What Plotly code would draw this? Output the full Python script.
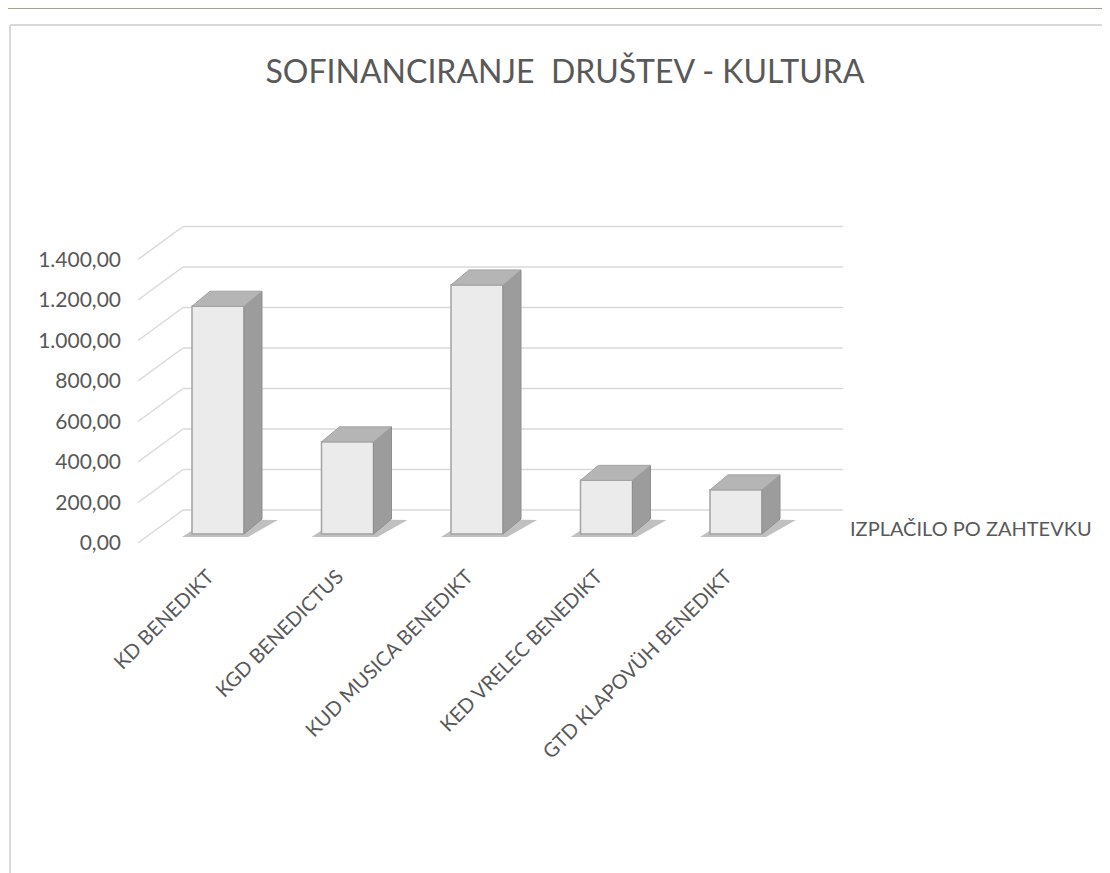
import plotly.graph_objects as go

# ---- data ----
categories = ["KD BENEDIKT", "KGD BENEDICTUS", "KUD MUSICA BENEDIKT",
              "KED VRELEC BENEDIKT", "GTD KLAPOVÜH BENEDIKT"]
values = [1125, 455, 1230, 265, 218]
series_name = "IZPLAČILO PO ZAHTEVKU"
y_ticks = [0, 200, 400, 600, 800, 1000, 1200, 1400]
title_text = "SOFINANCIRANJE  DRUŠTEV - KULTURA"

# ---- layout geometry (screen pixels; page body has an 8px margin) ----
OFF = 8
W, H = 1110 - OFF, 873 - OFF
L, R, T, B = 126, 1100, 200, 560          # plot area (screen px)
X0PX, Y0PX = 218, 543                     # category 0 centre / value 0 (front plane)
PX_PER_CAT = 129.5
PX_PER_VAL = 0.2025

xr = [(L - X0PX) / PX_PER_CAT, (R - X0PX) / PX_PER_CAT]
yr = [-(B - Y0PX) / PX_PER_VAL, (Y0PX - T) / PX_PER_VAL]

def px_x(px):
    return (px - X0PX) / PX_PER_CAT

def px_dx(px):
    return px / PX_PER_CAT

def px_dy(px):
    return px / PX_PER_VAL

WALL_DY = px_dy(33)
WALL_FRONT_X = px_x(138)
WALL_BACK_X = px_x(183)
WALL_RIGHT_X = px_x(843)

BAR_W = px_dx(52)
BAR_BASE = px_dy(9)
BAR_DDX = px_dx(18)
BAR_DDY = px_dy(15)

TEXT = "#595959"
FONT = "Lato"

fig = go.Figure()

# front faces
fig.add_trace(go.Bar(
    x=list(range(len(categories))), y=values, base=BAR_BASE, width=BAR_W,
    marker=dict(color="#ebebeb", line=dict(color="#a3a3a3", width=1.5)),
    name=series_name, showlegend=False,
    customdata=categories,
    hovertemplate="%{customdata}<br>%{y:,.2f}<extra></extra>",
))

# side & top faces derived from values
for i, v in enumerate(values):
    xl, xrt = i - BAR_W / 2, i + BAR_W / 2
    top = BAR_BASE + v
    fig.add_trace(go.Scatter(
        x=[xrt, xrt + BAR_DDX, xrt + BAR_DDX, xrt, xrt],
        y=[BAR_BASE, BAR_BASE + BAR_DDY, top + BAR_DDY, top, BAR_BASE],
        mode="lines", fill="toself", fillcolor="#9c9c9c",
        line=dict(color="#8f8f8f", width=1), hoverinfo="skip", showlegend=False))
    fig.add_trace(go.Scatter(
        x=[xl, xrt, xrt + BAR_DDX, xl + BAR_DDX, xl],
        y=[top, top, top + BAR_DDY, top + BAR_DDY, top],
        mode="lines", fill="toself", fillcolor="#b5b5b5",
        line=dict(color="#a3a3a3", width=1), hoverinfo="skip", showlegend=False))

shapes = []
# back wall gridlines + diagonals
for v in y_ticks:
    shapes.append(dict(type="line", xref="x", yref="y", layer="below",
                       x0=WALL_FRONT_X, y0=v, x1=WALL_BACK_X, y1=v + WALL_DY,
                       line=dict(color="#d9d9d9", width=1.5)))
    shapes.append(dict(type="line", xref="x", yref="y", layer="below",
                       x0=WALL_BACK_X, y0=v + WALL_DY, x1=WALL_RIGHT_X, y1=v + WALL_DY,
                       line=dict(color="#d9d9d9", width=1.5)))
# soft shadows at bar feet
for i in range(len(values)):
    xl, xrt = i - BAR_W / 2, i + BAR_W / 2
    shapes.append(dict(
        type="path", xref="x", yref="y", layer="below",
        path=(f"M {xl - px_dx(10)},{BAR_BASE - px_dy(3)} "
              f"L {xrt + px_dx(4)},{BAR_BASE - px_dy(3)} "
              f"L {xrt + BAR_DDX + px_dx(16)},{BAR_BASE + BAR_DDY - px_dy(1)} "
              f"L {xl + BAR_DDX},{BAR_BASE + BAR_DDY} Z"),
        fillcolor="rgba(90,90,90,0.38)", line=dict(width=0)))

def paper_x(px):
    return (px - L) / (R - L)

def paper_y(py):
    return (B - py) / (B - T)

# chart frame & sheet line
shapes.append(dict(type="line", xref="paper", yref="paper",
                   x0=paper_x(10), y0=paper_y(25), x1=paper_x(1110), y1=paper_y(25),
                   line=dict(color="#d9d9d9", width=2)))
shapes.append(dict(type="line", xref="paper", yref="paper",
                   x0=paper_x(10), y0=paper_y(25), x1=paper_x(10), y1=paper_y(873),
                   line=dict(color="#d9d9d9", width=2)))
shapes.append(dict(type="line", xref="paper", yref="paper",
                   x0=paper_x(0), y0=paper_y(8.5), x1=paper_x(1110), y1=paper_y(8.5),
                   line=dict(color="#93ab8a", width=1)))

fig.update_layout(
    width=W, height=H, autosize=False,
    margin=dict(l=L - OFF, r=(W + OFF) - R, t=T - OFF, b=(H + OFF) - B),
    paper_bgcolor="white", plot_bgcolor="white",
    separators=",.",
    shapes=shapes,
    title=dict(text=title_text, xref="container", yref="container",
               x=(565 - OFF) / W, y=1 - (72 - OFF) / H, xanchor="center", yanchor="middle",
               font=dict(family=FONT, size=32, color=TEXT)),
    xaxis=dict(range=xr, tickvals=[i - px_dx(10) for i in range(len(categories))],
               ticktext=categories,
               tickangle=-45, showgrid=False, zeroline=False, showline=False, ticks="",
               tickfont=dict(family=FONT, size=20, color=TEXT), fixedrange=True),
    yaxis=dict(range=yr, tickvals=y_ticks, tickformat=",.2f",
               showgrid=False, zeroline=False, showline=False, ticks="",
               ticklabelstandoff=4,
               tickfont=dict(family=FONT, size=21, color=TEXT), fixedrange=True),
    annotations=[dict(text=series_name, xref="x", yref="y", x=px_x(848), y=px_dy(Y0PX - 528),
                      xanchor="left", yanchor="middle", showarrow=False,
                      font=dict(family=FONT, size=20, color=TEXT))],
    font=dict(family=FONT, color=TEXT),
)

fig.write_html("out.html")
